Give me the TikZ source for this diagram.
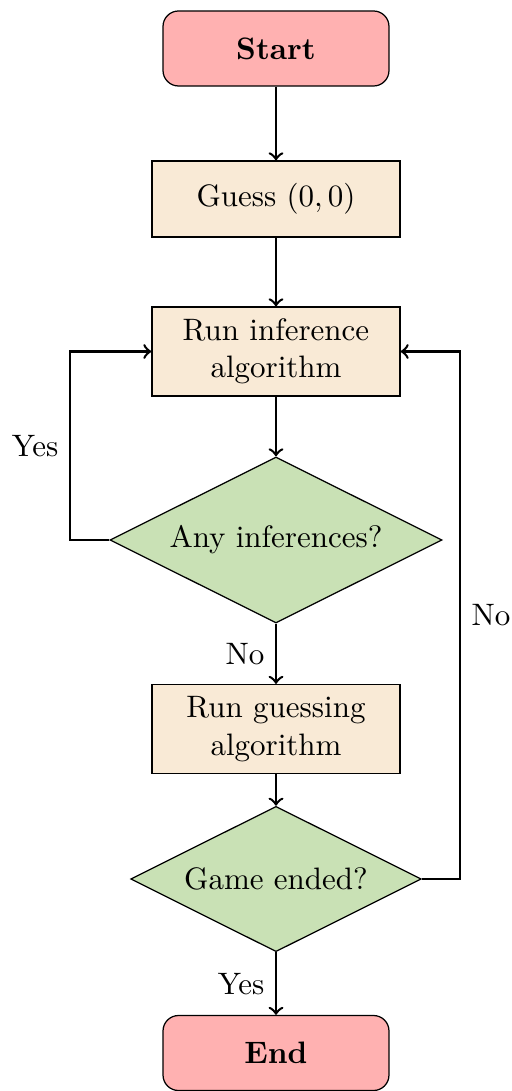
\documentclass[tikz,border=0pt]{standalone}
\usetikzlibrary{shapes.geometric}
\definecolor{termfill}{RGB}{255,177,177}
\definecolor{procfill}{RGB}{249,234,214}
\definecolor{decfill}{RGB}{201,225,181}
\tikzset{
  terminal/.style={rectangle, rounded corners=5pt, draw=black, fill=termfill,
    minimum width=72.9pt, minimum height=24.2pt, font=\bfseries, align=center},
  process/.style={rectangle, draw=black, fill=procfill,
    minimum width=80pt, minimum height=24.5pt, align=center},
  process2/.style={process, minimum height=28.7pt},
  decision/.style={diamond, aspect=2, draw=black, fill=decfill, align=center},
  arrow/.style={thick, ->},
}
\begin{document}
\begin{tikzpicture}[x=0.3226pt, y=-0.3226pt]
  \useasboundingbox (0,0) rectangle (512,1091);

  \node[terminal] (start) at (276,48.5) {Start};
  \node[process]  (guess) at (276,199) {Guess $(0,0)$};
  \node[process2] (infer) at (276,351.5) {Run inference\\algorithm};
  \node[decision] (anyinf) at (276,540) {Any inferences?};
  \node[process2] (guessalg) at (276,729) {Run guessing\\algorithm};
  \node[decision] (ended) at (276,879) {Game ended?};
  \node[terminal] (stop) at (276,1053) {End};

  \coordinate (leftbend) at (70,540);
  \coordinate (rightbend) at (460,879);

  \draw[arrow] (start) -- (guess);
  \draw[arrow] (guess) -- (infer);
  \draw[arrow] (infer) -- (anyinf);
  \draw[arrow] (anyinf) -- node[left] {No} (guessalg);
  \draw[arrow] (guessalg) -- (ended);
  \draw[arrow] (ended) -- node[left] {Yes} (stop);
  \draw[arrow] (anyinf.west) -- (leftbend)
    -- node[left] {Yes} (leftbend |- infer.west) -- (infer.west);
  \draw[arrow] (ended.east) -- (rightbend)
    -- node[right] {No} (rightbend |- infer.east) -- (infer.east);
\end{tikzpicture}
\end{document}
